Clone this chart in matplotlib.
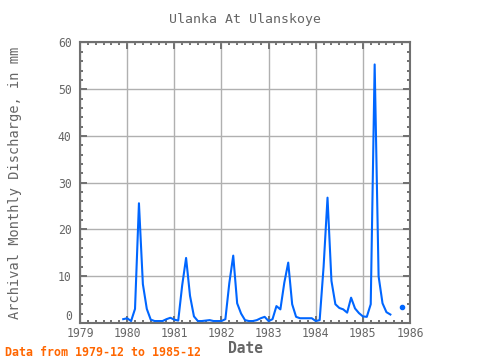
import numpy as np
import pandas as pd
import matplotlib
matplotlib.use("Agg")
import matplotlib.pyplot as plt
from matplotlib.ticker import MultipleLocator

# monthly discharge, 1979-12 .. 1985-12 (nan = missing)
months = pd.period_range("1979-12", "1985-12", freq="M")
discharge = [
    0.8,
    1.0, 0.4, 3.0, 25.6, 8.3, 3.0, 0.7, 0.4, 0.4, 0.4, 0.8, 1.1,
    0.7, 0.5, 8.0, 13.9, 5.8, 1.4, 0.4, 0.4, 0.5, 0.6, 0.4, 0.4,
    0.4, 0.8, 8.5, 14.4, 4.2, 2.0, 0.6, 0.4, 0.4, 0.6, 1.0, 1.3,
    0.4, 0.8, 3.6, 2.9, 8.6, 12.9, 4.0, 1.3, 1.0, 1.0, 1.0, 1.0,
    0.4, 0.6, 12.0, 26.8, 9.0, 4.0, 3.2, 2.9, 2.2, 5.4, 3.1, 2.1,
    1.4, 1.3, 4.0, 55.3, 10.0, 4.2, 2.3, 1.8, np.nan, np.nan, 3.4, np.nan,
]
year_ticks = list(range(1979, 1987))
value_ticks = list(range(0, 61, 10))

x = np.array([p.year + (p.month - 1) / 12 for p in months])
y = np.array(discharge, dtype=float)

# points with no neighbours get a marker so they stay visible
ok = ~np.isnan(y)
prev_ok = np.r_[False, ok[:-1]]
next_ok = np.r_[ok[1:], False]
lone = ok & ~prev_ok & ~next_ok

gray = "#707070"
plt.rcParams["font.family"] = ["DejaVu Sans Mono"]

fig = plt.figure(figsize=(4.8, 3.6), dpi=100)
ax = fig.add_axes([0.1667, 0.103, 0.6875, 0.779])

ax.plot(x, y, color="#0066ff", lw=1.5)
ax.plot(x[lone], y[lone], "o", color="#0066ff", ms=3)

ax.set_xlim(1979, 1986)
ax.set_ylim(0, 60)
ax.set_xticks(year_ticks)
ax.set_yticks(value_ticks)
ax.xaxis.set_minor_locator(MultipleLocator(1 / 6))
ax.yaxis.set_minor_locator(MultipleLocator(2))
ax.grid(True, which="major", color="#b0b0b0", lw=1)
ax.set_axisbelow(True)

for s in ax.spines.values():
    s.set_color(gray)
    s.set_linewidth(1.5)
ax.tick_params(which="both", direction="in", top=True, right=True,
               color=gray, width=1.4, labelcolor="#666666", labelsize=8.3)
ax.tick_params(which="major", length=5)
ax.tick_params(axis="x", which="major", pad=3)
ax.tick_params(axis="y", which="major", pad=6)
ax.tick_params(which="minor", length=2.5)

# the "0" label sits a bit higher so it clears the year labels
ax.yaxis.get_major_ticks()[0].label1.set_verticalalignment("bottom")

ax.set_title("Ulanka At Ulanskoye", color="#666666", fontsize=9.5, pad=14)
ax.set_ylabel("Archival Monthly Discharge, in mm", color="#666666", fontsize=9.8)
ax.yaxis.set_label_coords(-0.176, 0.5)
ax.set_xlabel("Date", color="#666666", fontsize=10.5, fontweight="bold", labelpad=1)
fig.text(0.01, 0.012, "Data from 1979-12 to 1985-12", color="#ff6600",
         fontsize=8.4, fontweight="bold")

fig.savefig("out.png", dpi=100)
